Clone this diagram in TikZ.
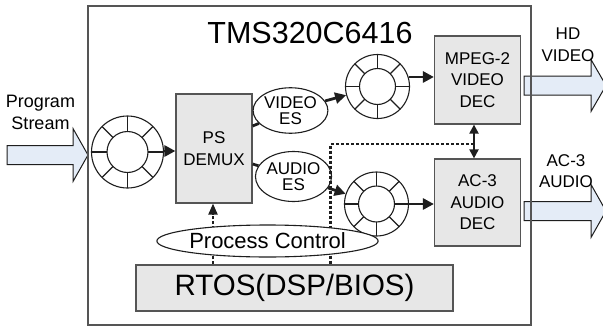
\documentclass[tikz,border=0pt]{standalone}
\usepackage{fontspec}
\setmainfont{Liberation Sans}
\usetikzlibrary{shapes.geometric,arrows.meta,calc}
\definecolor{boxfill}{RGB}{231,231,231}
\definecolor{arrowfill}{RGB}{228,236,247}
\definecolor{linecol}{RGB}{30,30,30}
\definecolor{framecol}{RGB}{85,85,85}
\newcommand\ringdeco[3]{%
  \draw[line width=1.1pt, linecol] (#1) circle[radius=#3];
  \foreach \a in {0,45,...,315}
    \draw[line width=1.1pt, linecol] (#1) ++(\a:#3) -- ++(\a:{#2-#3});
}
\begin{document}
\begin{tikzpicture}[x=1pt,y=-1pt,
  lbl/.style={font=\fontsize{17}{21.5}\selectfont, align=center, inner sep=0},
  box/.style={draw=framecol, line width=1.2pt, fill=boxfill, inner sep=0, align=center,
    font=\fontsize{17}{21.5}\selectfont},
  ell/.style={ellipse, draw=linecol, line width=1.1pt, fill=white, inner sep=0, align=center},
  ring/.style={circle, draw=linecol, line width=1.1pt, fill=white, inner sep=0},
  conn/.style={line width=2.8pt, draw=linecol},
  arr/.style={conn, -{Triangle[length=11pt,width=11pt]}},
  dbl/.style={line width=2pt, draw=linecol, {Triangle[length=9pt,width=9pt]}-{Triangle[length=9pt,width=9pt]}},
  dotline/.style={line width=2.2pt, draw=linecol, dash pattern=on 3pt off 2pt},
  dotarr/.style={dotline, -{Triangle[length=11pt,width=9pt]}},
  bigarrow/.style={draw=linecol, line width=1pt, fill=arrowfill, line join=miter}
]
\useasboundingbox (0,0) rectangle (603,327);
\clip (0,0) rectangle (603,327);
\fill[white] (0,0) rectangle (603,327);

% big input / output arrows
\draw[bigarrow] (7,145.5) -- (73,145.5) -- (73,128.5) -- (88,155) -- (73,181.5) -- (73,164.5) -- (7,164.5) -- cycle;
\draw[bigarrow] (524,76) -- (591,76) -- (591,59.5) -- (606,85.5) -- (591,111.5) -- (591,95) -- (524,95) -- cycle;
\draw[bigarrow] (524,201.5) -- (591,201.5) -- (591,184.5) -- (606,211) -- (591,237.5) -- (591,220.5) -- (524,220.5) -- cycle;

% chip frame and title
\node[draw=framecol, line width=1.3pt, minimum width=443pt, minimum height=319pt, inner sep=0] (chip) at (309.5,165.5) {};
\node[font=\fontsize{30.5}{36}\selectfont, inner sep=0] (title) at (310,33) {TMS320C6416};

% outside labels
\node[lbl, font=\fontsize{18}{22}\selectfont] (pstext) at (40.5,112) {Program\\Stream};
\node[lbl] (hdtext) at (568,44.5) {HD\\VIDEO};
\node[lbl] (actext) at (566,171) {AC-3\\AUDIO};

% blocks
\node[box, minimum width=76pt, minimum height=109pt] (psd) at (214,148.5) {PS\\DEMUX};
\node[box, minimum width=86pt, minimum height=88pt] (mpeg) at (477.5,80) {MPEG-2\\VIDEO\\DEC};
\node[box, minimum width=86pt, minimum height=87pt] (ac3) at (477.5,202.5) {AC-3\\AUDIO\\DEC};
\node[box, minimum width=317pt, minimum height=46pt, font=\fontsize{29.5}{34}\selectfont] (rtos) at (294.5,288) {RTOS(DSP/BIOS)};

% ring buffers
\node[ring, minimum size=72pt] (r1) at (127.5,152) {};
\ringdeco{r1}{36}{20.5}
\node[ring, minimum size=64pt] (r2) at (377.5,86.5) {};
\ringdeco{r2}{32}{18}
\node[ring, minimum size=64pt] (r3) at (376.5,204) {};
\ringdeco{r3}{32}{18}

% elementary streams
\node[ell, minimum width=71pt, minimum height=45.5pt, font=\fontsize{17}{16.5}\selectfont] (ves) at (290.5,110.5) {VIDEO\\ES};
\node[ell, minimum width=73pt, minimum height=50pt, font=\fontsize{17}{16.5}\selectfont] (aes) at (293.5,176.5) {AUDIO\\ES};

% connectors
\draw[arr] (r1.east |- 0,151) -- (psd.west |- 0,151);
\draw[conn] (psd.east |- 0,126) -- (ves);
\draw[conn] (psd.east |- 0,164) -- (aes);
\draw[arr] (ves) -- (r2);
\draw[arr] (aes) -- (r3);
\draw[arr] (r2.17.5) -- (r2.17.5 -| mpeg.west);
\draw[arr] (r3.east) -- (r3.east -| ac3.west);
\draw[dbl] ([xshift=-3.5pt]mpeg.south) -- ([xshift=-3.5pt]ac3.north);
\coordinate (dj) at (474,144);
\coordinate (dk) at (330.5,144);
\draw[dotline] (dj) -- (dk) -- (dk |- rtos.north);
\draw[dotarr] ([xshift=-1pt]psd.south |- rtos.north) -- ([xshift=-1pt]psd.south);

% process control (drawn over the dotted lines)
\node[ell, minimum width=179pt, minimum height=32pt, font=\fontsize{22}{26}\selectfont] (pc) at (267.5,241) {Process Control};
\end{tikzpicture}
\end{document}
